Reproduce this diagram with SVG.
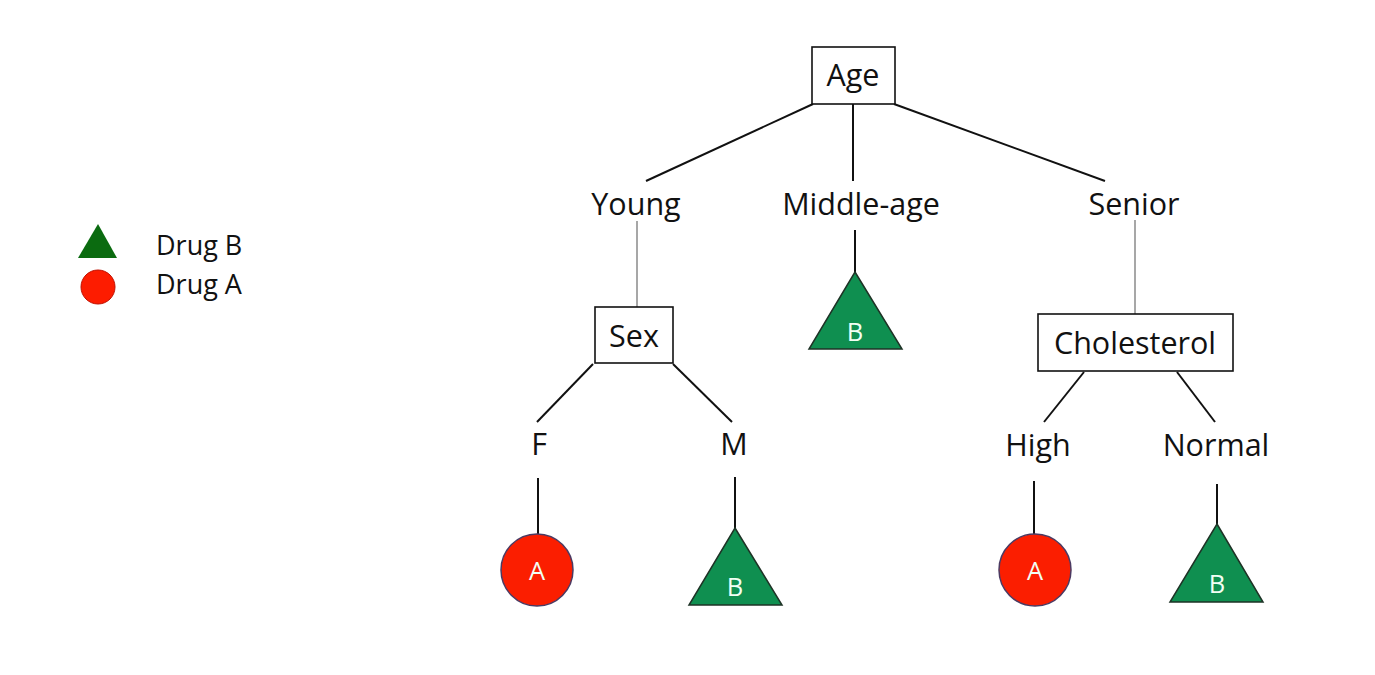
<svg xmlns="http://www.w3.org/2000/svg" width="1375" height="675" viewBox="0 0 1375 675">
<style>
text{font-family:"Open Sans","Noto Sans","Liberation Sans",sans-serif;fill:#111}
.lbl{font-size:30.5px;text-anchor:middle}
.leg{font-size:27px}
.box{fill:#fff;stroke:#111;stroke-width:1.6}
.edge{stroke:#111;stroke-width:2;fill:none}
.thin{stroke:#8a8a8a;stroke-width:1.5;fill:none}
.circ{fill:#fb1e00;stroke:#4b3a62;stroke-width:1.5}
.tri{fill:#0f8f50;stroke:#1e3326;stroke-width:1.5}
.leaf{font-size:25.5px;text-anchor:middle;fill:#f2fff4}
</style>
<rect width="1375" height="675" fill="#fff"/>
<g id="connectors">
<line class="edge" x1="813" y1="104" x2="646" y2="181"/>
<line class="edge" x1="853" y1="104" x2="853" y2="181"/>
<line class="edge" x1="894" y1="104" x2="1105" y2="181"/>
<line class="thin" x1="637" y1="221" x2="637" y2="307"/>
<line class="edge" x1="855" y1="230" x2="855" y2="272"/>
<line class="thin" x1="1135" y1="220" x2="1135" y2="314"/>
<line class="edge" x1="593" y1="364" x2="537" y2="422"/>
<line class="edge" x1="673" y1="364" x2="732" y2="422"/>
<line class="edge" x1="538" y1="478" x2="538" y2="534"/>
<line class="edge" x1="735" y1="477" x2="735" y2="528"/>
<line class="edge" x1="1084" y1="372" x2="1044" y2="422"/>
<line class="edge" x1="1177" y1="372" x2="1215" y2="422"/>
<line class="edge" x1="1034" y1="481" x2="1034" y2="534"/>
<line class="edge" x1="1217" y1="484" x2="1217" y2="524"/>
</g>
<g id="legend">
<polygon points="98,224 117,258 78,258" fill="#0b6b10"/>
<circle cx="98" cy="287" r="17" fill="#fd1c00" stroke="#c01000" stroke-width="1"/>
<text class="leg" x="156" y="255">Drug B</text>
<text class="leg" x="156" y="294">Drug A</text>
</g>
<g id="node-age">
<rect class="box" x="812" y="47" width="83" height="57"/>
<text class="lbl" x="853" y="86">Age</text>
</g>
<g id="node-young"><text class="lbl" x="636" y="215">Young</text></g>
<g id="node-middle"><text class="lbl" x="861" y="215">Middle-age</text></g>
<g id="node-senior"><text class="lbl" x="1134" y="215">Senior</text></g>
<g id="node-sex">
<rect class="box" x="595" y="307" width="78" height="56"/>
<text class="lbl" x="634" y="347">Sex</text>
</g>
<g id="node-cholesterol">
<rect class="box" x="1038" y="314" width="195" height="57"/>
<text class="lbl" x="1135" y="354">Cholesterol</text>
</g>
<g id="node-f"><text class="lbl" x="539" y="455">F</text></g>
<g id="node-m"><text class="lbl" x="734" y="455">M</text></g>
<g id="node-high"><text class="lbl" x="1038" y="456">High</text></g>
<g id="node-normal"><text class="lbl" x="1216" y="456">Normal</text></g>
<g id="leaf-middle">
<polygon class="tri" points="855,272 902,349 809,349"/>
<text class="leaf" x="855" y="341">B</text>
</g>
<g id="leaf-f">
<circle class="circ" cx="537" cy="570" r="36"/>
<text class="leaf" x="537" y="580">A</text>
</g>
<g id="leaf-m">
<polygon class="tri" points="735,528 782,605 689,605"/>
<text class="leaf" x="735" y="596">B</text>
</g>
<g id="leaf-high">
<circle class="circ" cx="1035" cy="570" r="36"/>
<text class="leaf" x="1035" y="580">A</text>
</g>
<g id="leaf-normal">
<polygon class="tri" points="1217,524 1263,602 1170,602"/>
<text class="leaf" x="1217" y="593">B</text>
</g>
</svg>
